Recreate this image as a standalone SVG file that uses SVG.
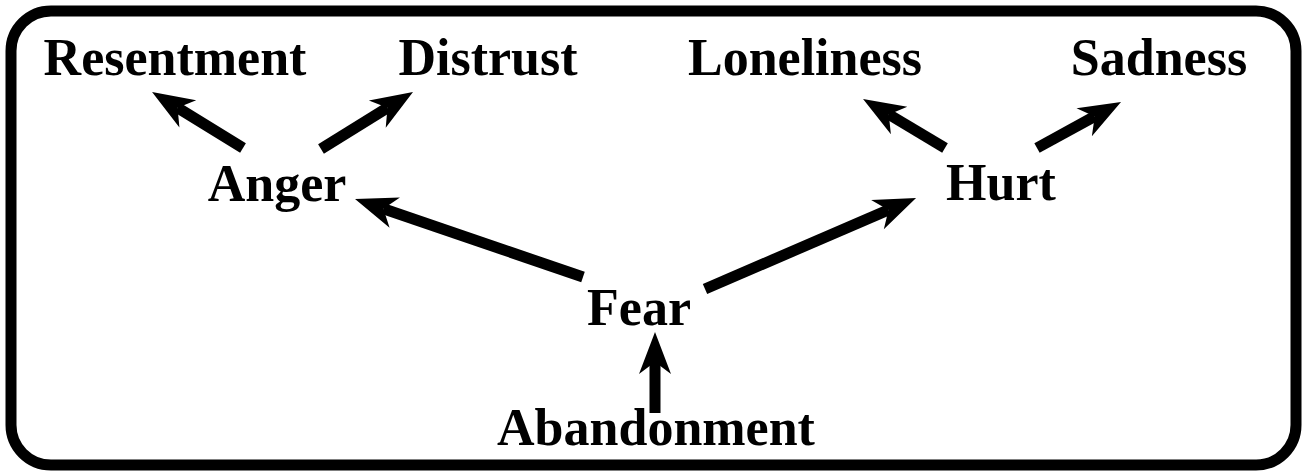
<svg xmlns="http://www.w3.org/2000/svg" width="1303" height="471" viewBox="0 0 1303 471">
<style>
.lbl{font-family:"Liberation Serif","Times New Roman",serif;font-weight:bold;font-size:52px;fill:#000;text-anchor:middle}
.edge{stroke:#000;stroke-width:11;fill:none;marker-end:url(#ah)}
</style>
<defs>
<marker id="ah" markerUnits="userSpaceOnUse" viewBox="-14 -18 46 36" refX="0" refY="0" markerWidth="46" markerHeight="36" orient="auto">
<path d="M30,0 L-12,-16 L0,0 L-12,16 Z" fill="#000"/>
</marker>
</defs>
<rect x="11" y="11" width="1285" height="454" rx="40" ry="40" fill="#fff" stroke="#000" stroke-width="11"/>
<g id="connectors">
<line class="edge" x1="243" y1="148" x2="177.6" y2="107.7"/>
<line class="edge" x1="321" y1="149" x2="387.5" y2="107.8"/>
<line class="edge" x1="945" y1="148" x2="888.8" y2="114.4"/>
<line class="edge" x1="1037" y1="148" x2="1094.7" y2="116.4"/>
<line class="edge" x1="583" y1="277" x2="383.4" y2="208.7"/>
<line class="edge" x1="705" y1="289" x2="888.5" y2="209.9"/>
<line class="edge" x1="655" y1="413" x2="655" y2="362"/>
</g>
<g id="node-resentment"><text class="lbl" x="175" y="75">Resentment</text></g>
<g id="node-distrust"><text class="lbl" x="488" y="75">Distrust</text></g>
<g id="node-loneliness"><text class="lbl" x="805" y="75">Loneliness</text></g>
<g id="node-sadness"><text class="lbl" x="1159" y="75">Sadness</text></g>
<g id="node-anger"><text class="lbl" x="277" y="201">Anger</text></g>
<g id="node-hurt"><text class="lbl" x="1001" y="200">Hurt</text></g>
<g id="node-fear"><text class="lbl" x="639" y="325">Fear</text></g>
<g id="node-abandonment"><text class="lbl" x="656" y="445">Abandonment</text></g>
</svg>
